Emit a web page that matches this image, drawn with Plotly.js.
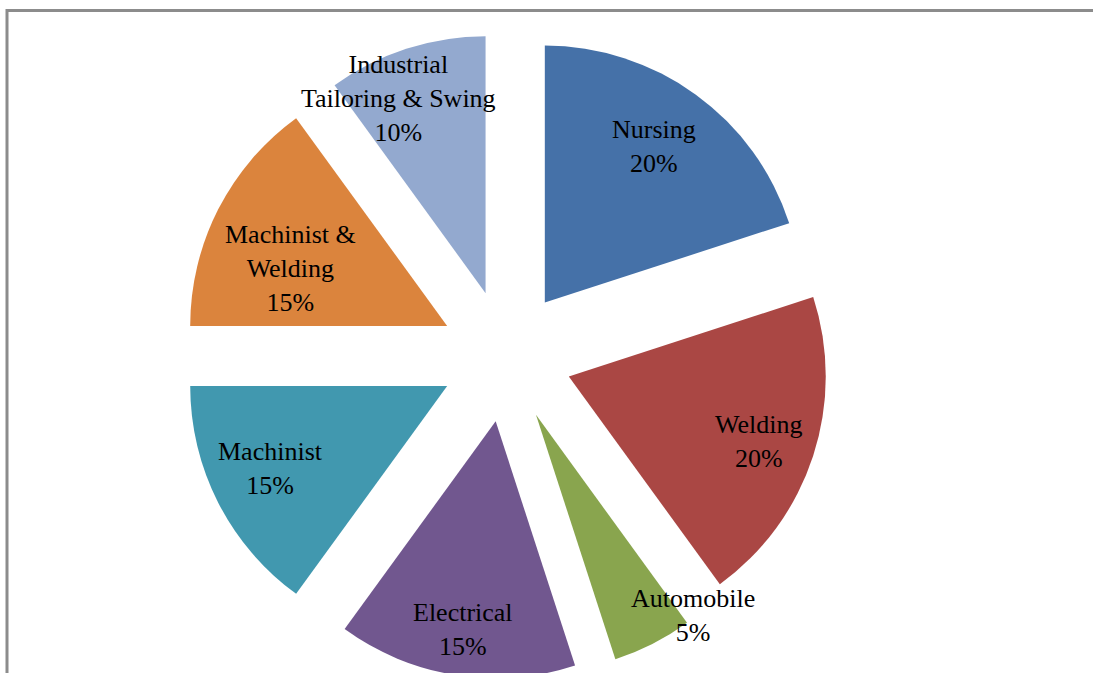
<!DOCTYPE html>
<html>
<head>
<meta charset="utf-8">
<script src="https://cdn.plot.ly/plotly-3.0.1.min.js"></script>
<style>
html,body{margin:0;padding:0;overflow:hidden;background:#fff;width:1093px;height:673px;}
#chart{width:1093px;height:700px;}
</style>
</head>
<body>
<div id="chart"></div>
<script>
// ---- data ----
const categories = ["Nursing", "Welding", "Automobile", "Electrical", "Machinist", "Machinist &<br>Welding", "Industrial<br>Tailoring & Swing"];
const values = [20, 20, 5, 15, 15, 15, 10];
const percentLabels = ["20%", "20%", "5%", "15%", "15%", "15%", "10%"];

// ---- style ----
const colors = ["#4571A8", "#AA4744", "#89A54E", "#71578F", "#4198AF", "#DB843D", "#93A9CF"];
const W = 1093, H = 700;
const pull = 0.257;
// domain chosen so the pie centre is at (506,356) px and radius ~257 px
const side = 646;
const cxPx = 506, cyPx = 356;
const domX = [(cxPx - side/2)/W, (cxPx + side/2)/W];
const domY = [1 - (cyPx + side/2)/H, 1 - (cyPx - side/2)/H];
// label placement: fraction of radius from slice apex, angle tweak (deg)
const labelFrac = [0.74, 0.78, 0.99, 0.82, 0.76, 0.65, 0.83];
const labelAng = [-1, 1, -11, 0, 2, -7, -6];

const r = side / 2 / (1 + pull);
const total = values.reduce((a, b) => a + b, 0);
const annotations = [];
let cum = 0;
values.forEach((v, i) => {
  const mid = (cum + v / 2) / total * 360;
  cum += v;
  const rad = mid * Math.PI / 180;
  const ax = cxPx + pull * r * Math.sin(rad);
  const ay = cyPx - pull * r * Math.cos(rad);
  const la = (mid + labelAng[i]) * Math.PI / 180;
  const px = ax + labelFrac[i] * r * Math.sin(la);
  const py = ay - labelFrac[i] * r * Math.cos(la);
  annotations.push({
    xref: "paper", yref: "paper", x: px / W, y: 1 - py / H,
    xanchor: "center", yanchor: "middle", showarrow: false,
    text: categories[i] + "<br>" + percentLabels[i],
    font: {family: "Liberation Serif, Times New Roman, serif", size: 26, color: "#000"}
  });
});

const trace = {
  type: "pie",
  labels: categories,
  values: values,
  sort: false,
  direction: "clockwise",
  rotation: 0,
  pull: values.map(() => pull),
  marker: {colors: colors, line: {width: 0}},
  textinfo: "none",
  hoverinfo: "label+percent",
  domain: {x: domX, y: domY}
};

const layout = {
  width: W, height: H,
  margin: {l: 0, r: 0, t: 0, b: 0},
  paper_bgcolor: "#fff",
  showlegend: false,
  annotations: annotations,
  shapes: [
    {type: "line", xref: "paper", yref: "paper", x0: 6/W, x1: 1, y0: 1 - 10.5/H, y1: 1 - 10.5/H, line: {color: "#8c8c8c", width: 3}},
    {type: "line", xref: "paper", yref: "paper", x0: 7/W, x1: 7/W, y0: 1 - 9/H, y1: 0, line: {color: "#8c8c8c", width: 3}}
  ]
};

Plotly.newPlot("chart", [trace], layout, {displayModeBar: false, staticPlot: true});
</script>
</body>
</html>
